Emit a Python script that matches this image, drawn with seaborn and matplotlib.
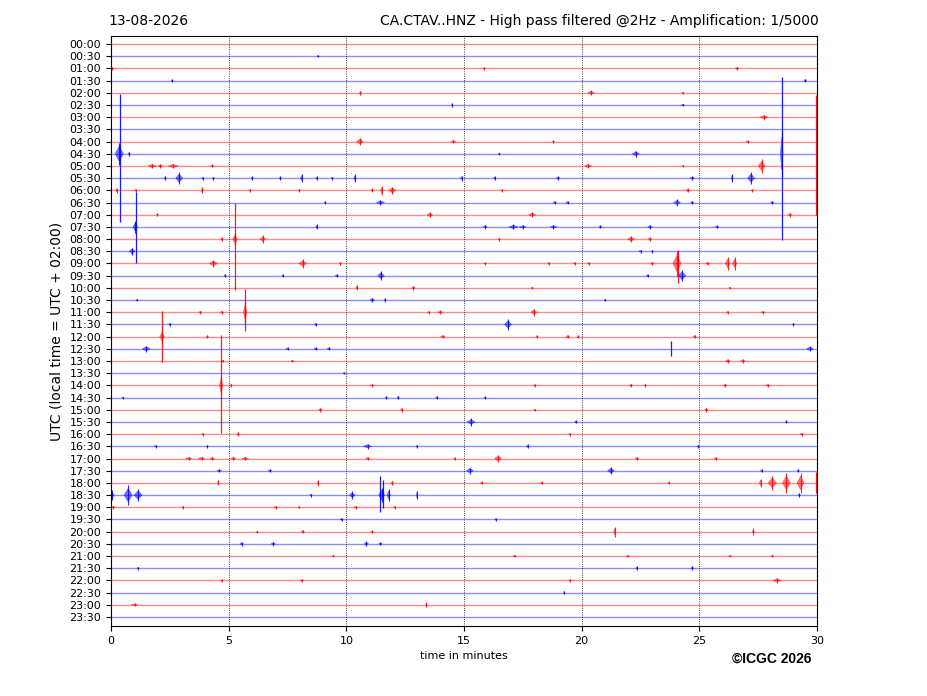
import numpy as np
import pandas as pd
import matplotlib
matplotlib.use("Agg")
import matplotlib.pyplot as plt
import seaborn as sns

# one trace per half hour, read top to bottom
row_labels = ["00:00", "00:30", "01:00", "01:30", "02:00", "02:30", "03:00", "03:30",
              "04:00", "04:30", "05:00", "05:30", "06:00", "06:30", "07:00", "07:30",
              "08:00", "08:30", "09:00", "09:30", "10:00", "10:30", "11:00", "11:30",
              "12:00", "12:30", "13:00", "13:30", "14:00", "14:30", "15:00", "15:30",
              "16:00", "16:30", "17:00", "17:30", "18:00", "18:30", "19:00", "19:30",
              "20:00", "20:30", "21:00", "21:30", "22:00", "22:30", "23:00", "23:30"]
minute_ticks = [0, 5, 10, 15, 20, 25, 30]

# bursts: (row, minute, half amplitude in trace spacings, duration in minutes)
bursts = [
    ("00:30", 8.8, 0.1, 0.1),
    ("01:00", 0.05, 0.12, 0.15), ("01:00", 15.85, 0.1, 0.1), ("01:00", 26.6, 0.15, 0.15),
    ("01:30", 2.6, 0.1, 0.1), ("01:30", 29.5, 0.15, 0.12),
    ("02:00", 10.6, 0.15, 0.1), ("02:00", 20.4, 0.2, 0.3), ("02:00", 24.3, 0.1, 0.1),
    ("02:30", 14.5, 0.15, 0.05), ("02:30", 24.3, 0.12, 0.15),
    ("03:00", 27.75, 0.2, 0.35),
    ("04:00", 10.58, 0.3, 0.3), ("04:00", 14.55, 0.15, 0.25), ("04:00", 18.8, 0.1, 0.1),
    ("04:00", 27.05, 0.1, 0.15),
    ("04:30", 0.35, 0.9, 0.35), ("04:30", 0.77, 0.15, 0.1), ("04:30", 16.5, 0.1, 0.1),
    ("04:30", 22.3, 0.25, 0.3), ("04:30", 28.5, 1.9, 0.12),
    ("05:00", 1.75, 0.2, 0.35), ("05:00", 2.1, 0.15, 0.2), ("05:00", 2.65, 0.2, 0.45),
    ("05:00", 4.3, 0.12, 0.15), ("05:00", 20.27, 0.2, 0.3), ("05:00", 24.3, 0.08, 0.1),
    ("05:00", 27.65, 0.55, 0.3),
    ("05:30", 2.3, 0.15, 0.1), ("05:30", 2.9, 0.5, 0.3), ("05:30", 3.9, 0.12, 0.1),
    ("05:30", 4.35, 0.12, 0.1), ("05:30", 6.0, 0.15, 0.1), ("05:30", 7.2, 0.15, 0.1),
    ("05:30", 8.1, 0.3, 0.1), ("05:30", 8.75, 0.15, 0.1), ("05:30", 9.4, 0.12, 0.1),
    ("05:30", 10.37, 0.3, 0.1), ("05:30", 14.9, 0.2, 0.1), ("05:30", 16.3, 0.15, 0.1),
    ("05:30", 19.0, 0.15, 0.15), ("05:30", 24.7, 0.15, 0.2), ("05:30", 26.4, 0.35, 0.08),
    ("05:30", 27.2, 0.5, 0.3),
    ("06:00", 0.25, 0.2, 0.1), ("06:00", 1.05, 0.12, 0.1), ("06:00", 3.87, 0.25, 0.08),
    ("06:00", 5.9, 0.1, 0.1), ("06:00", 8.0, 0.1, 0.1), ("06:00", 11.1, 0.15, 0.1),
    ("06:00", 11.5, 0.35, 0.1), ("06:00", 11.95, 0.3, 0.3), ("06:00", 16.6, 0.1, 0.1),
    ("06:00", 24.5, 0.15, 0.15), ("06:00", 27.25, 0.1, 0.1),
    ("06:30", 9.1, 0.1, 0.1), ("06:30", 11.45, 0.2, 0.35), ("06:30", 18.85, 0.12, 0.15),
    ("06:30", 19.4, 0.12, 0.15), ("06:30", 24.05, 0.25, 0.3), ("06:30", 24.7, 0.12, 0.15),
    ("06:30", 28.1, 0.12, 0.15),
    ("07:00", 1.97, 0.1, 0.1), ("07:00", 13.55, 0.2, 0.25), ("07:00", 17.9, 0.2, 0.3),
    ("07:00", 28.85, 0.15, 0.15),
    ("07:30", 1.03, 0.5, 0.2), ("07:30", 8.75, 0.2, 0.1), ("07:30", 15.9, 0.15, 0.2),
    ("07:30", 17.1, 0.2, 0.4), ("07:30", 17.5, 0.15, 0.3), ("07:30", 18.8, 0.15, 0.3),
    ("07:30", 20.8, 0.12, 0.15), ("07:30", 22.9, 0.15, 0.2), ("07:30", 25.75, 0.12, 0.15),
    ("08:00", 4.7, 0.15, 0.1), ("08:00", 5.27, 0.5, 0.2), ("08:00", 6.45, 0.3, 0.25),
    ("08:00", 16.5, 0.12, 0.1), ("08:00", 22.1, 0.25, 0.3), ("08:00", 22.9, 0.15, 0.15),
    ("08:30", 0.9, 0.3, 0.25), ("08:30", 22.5, 0.12, 0.15), ("08:30", 23.0, 0.12, 0.1),
    ("09:00", 4.35, 0.3, 0.35), ("09:00", 8.15, 0.35, 0.35), ("09:00", 9.75, 0.12, 0.1),
    ("09:00", 15.9, 0.12, 0.1), ("09:00", 18.6, 0.12, 0.1), ("09:00", 19.7, 0.12, 0.1),
    ("09:00", 20.3, 0.12, 0.1), ("09:00", 23.0, 0.15, 0.15), ("09:00", 24.05, 1.0, 0.35),
    ("09:00", 25.35, 0.15, 0.15), ("09:00", 26.2, 0.5, 0.2), ("09:00", 26.5, 0.5, 0.2),
    ("09:30", 4.85, 0.12, 0.1), ("09:30", 7.3, 0.1, 0.1), ("09:30", 9.6, 0.12, 0.15),
    ("09:30", 11.47, 0.35, 0.3), ("09:30", 22.8, 0.12, 0.1), ("09:30", 24.26, 0.45, 0.35),
    ("10:00", 10.45, 0.2, 0.1), ("10:00", 12.85, 0.15, 0.15), ("10:00", 17.9, 0.1, 0.1),
    ("10:00", 26.3, 0.1, 0.1),
    ("10:30", 1.1, 0.1, 0.1), ("10:30", 11.1, 0.2, 0.2), ("10:30", 11.65, 0.15, 0.1),
    ("10:30", 21.0, 0.1, 0.1),
    ("11:00", 3.8, 0.12, 0.15), ("11:00", 4.7, 0.12, 0.15), ("11:00", 5.7, 0.9, 0.15),
    ("11:00", 13.5, 0.12, 0.1), ("11:00", 14.0, 0.15, 0.2), ("11:00", 17.97, 0.3, 0.25),
    ("11:00", 26.2, 0.12, 0.1), ("11:00", 27.7, 0.12, 0.15),
    ("11:30", 2.5, 0.15, 0.1), ("11:30", 8.7, 0.15, 0.1), ("11:30", 16.87, 0.45, 0.3),
    ("11:30", 29.0, 0.12, 0.1),
    ("12:00", 2.17, 0.5, 0.2), ("12:00", 4.1, 0.1, 0.1), ("12:00", 14.1, 0.15, 0.2),
    ("12:00", 18.1, 0.1, 0.1), ("12:00", 19.4, 0.15, 0.15), ("12:00", 19.85, 0.12, 0.1),
    ("12:00", 24.8, 0.15, 0.15),
    ("12:30", 1.5, 0.25, 0.35), ("12:30", 7.5, 0.12, 0.15), ("12:30", 8.7, 0.12, 0.15),
    ("12:30", 9.25, 0.12, 0.15), ("12:30", 29.7, 0.2, 0.3),
    ("13:00", 4.75, 0.12, 0.1), ("13:00", 7.7, 0.12, 0.1), ("13:00", 26.2, 0.15, 0.2),
    ("13:00", 26.85, 0.15, 0.2),
    ("13:30", 9.9, 0.08, 0.1),
    ("14:00", 4.68, 0.8, 0.15), ("14:00", 5.1, 0.15, 0.1), ("14:00", 11.1, 0.12, 0.15),
    ("14:00", 18.0, 0.12, 0.1), ("14:00", 22.1, 0.12, 0.15), ("14:00", 22.7, 0.12, 0.1),
    ("14:00", 26.1, 0.15, 0.15), ("14:00", 27.9, 0.12, 0.15),
    ("14:30", 0.5, 0.08, 0.1), ("14:30", 11.7, 0.12, 0.1), ("14:30", 12.2, 0.15, 0.1),
    ("14:30", 13.85, 0.12, 0.1), ("14:30", 15.9, 0.1, 0.1),
    ("15:00", 8.9, 0.15, 0.15), ("15:00", 12.35, 0.15, 0.1), ("15:00", 18.0, 0.1, 0.1),
    ("15:00", 25.3, 0.15, 0.15),
    ("15:30", 15.3, 0.3, 0.35), ("15:30", 19.75, 0.12, 0.1), ("15:30", 28.7, 0.12, 0.1),
    ("16:00", 3.9, 0.12, 0.1), ("16:00", 5.4, 0.15, 0.1), ("16:00", 19.5, 0.12, 0.1),
    ("16:00", 29.35, 0.12, 0.15),
    ("16:30", 1.9, 0.1, 0.15), ("16:30", 4.1, 0.1, 0.1), ("16:30", 10.9, 0.2, 0.35),
    ("16:30", 13.0, 0.12, 0.1), ("16:30", 17.7, 0.15, 0.1), ("16:30", 24.95, 0.12, 0.1),
    ("17:00", 3.3, 0.15, 0.3), ("17:00", 3.85, 0.15, 0.3), ("17:00", 4.3, 0.15, 0.2),
    ("17:00", 5.2, 0.15, 0.25), ("17:00", 5.7, 0.15, 0.3), ("17:00", 10.9, 0.12, 0.2),
    ("17:00", 14.6, 0.1, 0.1), ("17:00", 16.45, 0.3, 0.3), ("17:00", 22.35, 0.15, 0.15),
    ("17:00", 25.7, 0.12, 0.15),
    ("17:30", 4.6, 0.12, 0.2), ("17:30", 6.75, 0.12, 0.15), ("17:30", 15.25, 0.25, 0.3),
    ("17:30", 21.25, 0.3, 0.3), ("17:30", 27.65, 0.12, 0.1), ("17:30", 29.2, 0.12, 0.1),
    ("18:00", 4.55, 0.2, 0.05), ("18:00", 8.8, 0.25, 0.05), ("18:00", 11.95, 0.15, 0.1),
    ("18:00", 15.75, 0.12, 0.1), ("18:00", 18.3, 0.12, 0.1), ("18:00", 23.7, 0.12, 0.1),
    ("18:00", 27.6, 0.35, 0.1), ("18:00", 28.1, 0.6, 0.35), ("18:00", 28.7, 0.8, 0.35),
    ("18:00", 29.3, 0.8, 0.3),
    ("18:30", 0.05, 0.4, 0.15), ("18:30", 0.73, 0.8, 0.35), ("18:30", 1.15, 0.5, 0.35),
    ("18:30", 8.5, 0.12, 0.1), ("18:30", 10.25, 0.3, 0.25), ("18:30", 11.5, 0.6, 0.25),
    ("18:30", 11.8, 0.5, 0.15), ("18:30", 13.0, 0.35, 0.05), ("18:30", 29.25, 0.15, 0.1),
    ("19:00", 0.1, 0.12, 0.2), ("19:00", 3.05, 0.12, 0.1), ("19:00", 7.0, 0.12, 0.15),
    ("19:00", 8.0, 0.1, 0.1), ("19:00", 10.4, 0.12, 0.15), ("19:00", 12.05, 0.12, 0.1),
    ("19:30", 9.8, 0.12, 0.15), ("19:30", 16.35, 0.1, 0.1),
    ("20:00", 6.2, 0.08, 0.1), ("20:00", 8.15, 0.15, 0.15), ("20:00", 11.1, 0.1, 0.1),
    ("20:00", 21.4, 0.4, 0.08), ("20:00", 27.3, 0.3, 0.08),
    ("20:30", 5.55, 0.15, 0.15), ("20:30", 6.9, 0.15, 0.2), ("20:30", 10.85, 0.2, 0.2),
    ("20:30", 11.45, 0.12, 0.15),
    ("21:00", 9.45, 0.12, 0.1), ("21:00", 17.15, 0.12, 0.15), ("21:00", 21.95, 0.12, 0.1),
    ("21:00", 26.3, 0.1, 0.1), ("21:00", 28.1, 0.12, 0.1),
    ("21:30", 1.15, 0.12, 0.1), ("21:30", 22.35, 0.15, 0.1), ("21:30", 24.7, 0.15, 0.15),
    ("22:00", 4.7, 0.1, 0.1), ("22:00", 8.1, 0.15, 0.1), ("22:00", 19.5, 0.1, 0.1),
    ("22:00", 28.3, 0.2, 0.35),
    ("22:30", 19.25, 0.15, 0.05),
    ("23:00", 1.0, 0.12, 0.3), ("23:00", 13.4, 0.2, 0.05),
]

# large arrivals: (row, minute, reach above, reach below) in trace spacings
spikes = [
    ("04:30", 0.38, 4.9, 5.6),
    ("04:30", 28.5, 6.3, 7.05),
    ("05:00", 29.97, 5.8, 4.0),
    ("07:30", 1.05, 2.9, 3.0),
    ("08:00", 5.27, 3.0, 4.2),
    ("09:00", 24.1, 1.1, 1.6),
    ("11:00", 5.7, 1.9, 1.55),
    ("12:00", 2.17, 2.1, 2.1),
    ("12:30", 23.8, 0.6, 0.6),
    ("14:00", 4.68, 4.1, 3.9),
    ("18:00", 29.97, 0.9, 0.8),
    ("18:30", 11.45, 1.55, 1.4),
    ("18:30", 11.55, 1.2, 1.1),
]

row_pos = {lab: -i for i, lab in enumerate(row_labels)}
row_col = {lab: ("red" if i % 2 == 0 else "blue") for i, lab in enumerate(row_labels)}

fig = plt.figure(figsize=(9.27, 6.96), dpi=100)
ax = fig.add_axes([111 / 927, 1 - 626 / 696, 706 / 927, 590 / 696])

# flat part of each trace
base = pd.DataFrame({"row": np.repeat(row_labels, 2),
                     "minute": np.tile([minute_ticks[0], minute_ticks[-1]], len(row_labels))})
base["y"] = base["row"].map(row_pos)
sns.lineplot(data=base, x="minute", y="y", hue="row", palette=row_col, estimator=None,
             sort=False, legend=False, lw=1.0, alpha=0.45, ax=ax)

# bursts: faint spindle body plus a sharp centre stroke
for lab, t, a, w in bursts:
    y = row_pos[lab]
    ax.fill([t - w / 2, t, t + w / 2, t], [y, y + 0.7 * a, y, y - 0.7 * a],
            color=row_col[lab], lw=0.3, alpha=0.55)
    ax.vlines(t, y - a, y + a, color=row_col[lab], lw=0.8, alpha=0.85)

for lab, t, up, down in spikes:
    y = row_pos[lab]
    ax.vlines(t, y - down, y + up, color=row_col[lab], lw=0.9, alpha=0.9)

ax.set_xlim(minute_ticks[0], minute_ticks[-1])
ax.set_ylim(-47.74, 0.66)
ax.set_xticks(minute_ticks)
ax.set_yticks([row_pos[l] for l in row_labels])
ax.set_yticklabels(row_labels)
ax.tick_params(labelsize=8)
ax.grid(axis="x", color="black", ls=":", lw=0.6)
ax.set_xlabel("time in minutes", fontsize=8)
ax.set_ylabel("UTC (local time = UTC + 02:00)", fontsize=10)

fig.text(108 / 927, 1 - 25 / 696, "13-08-2026", fontsize=10, va="baseline")
fig.text(819 / 927, 1 - 25 / 696,
         "CA.CTAV..HNZ - High pass filtered @2Hz - Amplification: 1/5000",
         fontsize=10, va="baseline", ha="right")
fig.text(811 / 927, 1 - 663 / 696, "©ICGC 2026", fontsize=10, fontweight="bold",
         family="Liberation Sans", ha="right", va="baseline")

fig.savefig("out.png", dpi=100)
